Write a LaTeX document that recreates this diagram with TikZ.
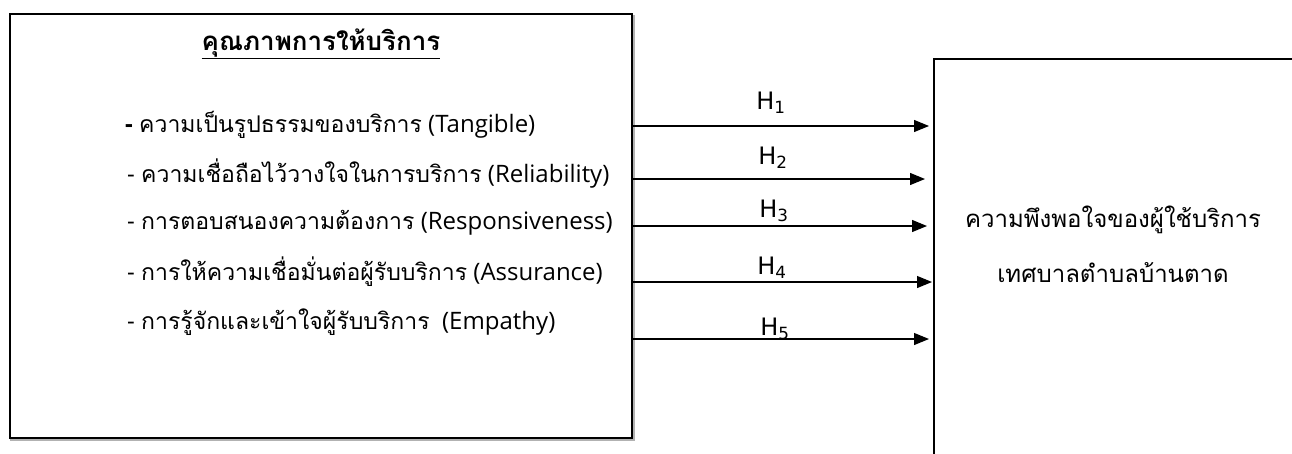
\documentclass[tikz,border=0pt]{standalone}
\usepackage{fontspec}
\setmainfont{Open Sans}
\newfontfamily\thai[Script=Thai,Scale=0.96]{Loma}
\newfontfamily\hfont{DejaVu Sans}
\usetikzlibrary{arrows.meta}
\tikzset{
  box/.style={draw=black, line width=2.2pt, fill=white},
  item/.style={anchor=west, inner sep=0pt, font=\fontsize{24}{28}\selectfont},
  hyp/.style={-{Triangle[length=15pt,width=12pt]}, line width=1.2pt},
  hlab/.style={inner sep=0pt, font=\hfont\fontsize{24}{26}\selectfont},
}
\begin{document}
\begin{tikzpicture}[x=1pt,y=-1pt]
\useasboundingbox (0,0) rectangle (1292,453);
\clip (0,0) rectangle (1292,453);
\draw[gray!60, line width=2pt] (11,16) rectangle (634,440);
\node[box, minimum width=622pt, minimum height=424pt, anchor=north west, inner sep=0pt] (lb) at (9,13) {};
\node[box, minimum width=360pt, minimum height=420pt, anchor=north west, inner sep=0pt] (rb) at (933,58) {};
\node[inner sep=0pt, font=\thai\bfseries\fontsize{27}{30}\selectfont] (title) at (321,44) {\underline{คุณภาพการให้บริการ}};
\node[item] (i1) at (125,125) {\textbf{-} {\thai ความเป็นรูปธรรมของบริการ} (Tangible)};
\node[item] (i2) at (127,174) {- {\thai ความเชื่อถือไว้วางใจในการบริการ} (Reliability)};
\node[item] (i3) at (127,223) {- {\thai การตอบสนองความต้องการ} (Responsiveness)};
\node[item] (i4) at (127,272) {- {\thai การให้ความเชื่อมั่นต่อผู้รับบริการ} (Assurance)};
\node[item] (i5) at (127,322) {- {\thai การรู้จักและเข้าใจผู้รับบริการ}\ \ (Empathy)};
\node[inner sep=0pt, align=center, font=\thai\fontsize{25}{55}\selectfont] (sat) at (1113,244) {ความพึงพอใจของผู้ใช้บริการ\\เทศบาลตำบลบ้านตาด};
\coordinate (s1) at (lb.east |- 0,126); \coordinate (e1) at (929,126);
\coordinate (s2) at (lb.east |- 0,179); \coordinate (e2) at (925,179);
\coordinate (s3) at (lb.east |- 0,226); \coordinate (e3) at (927,226);
\coordinate (s4) at (lb.east |- 0,282); \coordinate (e4) at (932,282);
\coordinate (s5) at (lb.east |- 0,339); \coordinate (e5) at (929,339);
\draw[hyp] (s1) -- (e1);
\draw[hyp] (s2) -- (e2);
\draw[hyp] (s3) -- (e3);
\draw[hyp] (s4) -- (e4);
\draw[hyp] (s5) -- (e5);
\node[hlab] (h1) at (771,103) {H\textsubscript{1}};
\node[hlab] (h2) at (773,158) {H\textsubscript{2}};
\node[hlab] (h3) at (774,211) {H\textsubscript{3}};
\node[hlab] (h4) at (772,268) {H\textsubscript{4}};
\node[hlab] (h5) at (775,329) {H\textsubscript{5}};
\end{tikzpicture}
\end{document}
